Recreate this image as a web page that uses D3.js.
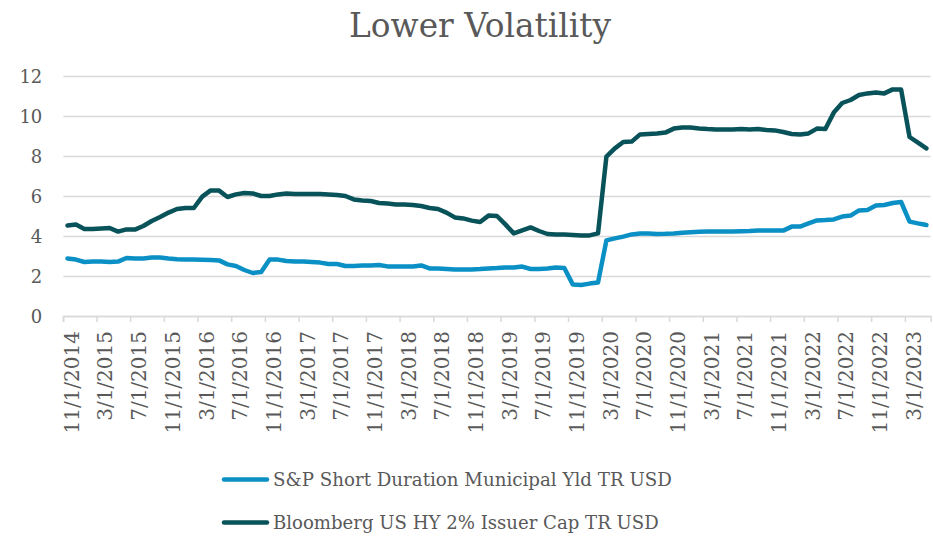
<!DOCTYPE html>
<html>
<head>
<meta charset="utf-8">
<script src="https://cdn.jsdelivr.net/npm/d3@7/dist/d3.min.js"></script>
<style>
  html, body { margin: 0; padding: 0; background: #ffffff; }
  svg { display: block; }
</style>
</head>
<body>
<svg id="chart" width="933" height="538"></svg>
<script>
// ---------------- DATA ----------------
const title = "Lower Volatility";
const startMonth = new Date(2014, 10, 1);   // 11/1/2014
const endMonth = new Date(2023, 5, 1);      // exclusive -> last 5/1/2023
const categories = d3.timeMonth.range(startMonth, endMonth).map(d => `${d.getMonth() + 1}/1/${d.getFullYear()}`);

const seriesNames = ["S&P Short Duration Municipal Yld TR USD", "Bloomberg US HY 2% Issuer Cap TR USD"];

const muniValues = [
  2.88, 2.82, 2.70, 2.72, 2.72, 2.70, 2.72, 2.90, 2.87, 2.88,
  2.92, 2.92, 2.87, 2.84, 2.82, 2.82, 2.81, 2.80, 2.78, 2.58,
  2.50, 2.30, 2.15, 2.20, 2.83, 2.82, 2.75, 2.72, 2.72, 2.70,
  2.67, 2.60, 2.60, 2.50, 2.50, 2.52, 2.53, 2.55, 2.48, 2.47,
  2.47, 2.48, 2.53, 2.38, 2.37, 2.35, 2.33, 2.33, 2.33, 2.35,
  2.38, 2.40, 2.43, 2.43, 2.47, 2.35, 2.35, 2.38, 2.42, 2.40,
  1.58, 1.55, 1.62, 1.67, 3.78, 3.88, 3.97, 4.08, 4.13, 4.12,
  4.10, 4.11, 4.13, 4.16, 4.19, 4.21, 4.22, 4.23, 4.23, 4.23,
  4.24, 4.25, 4.27, 4.28, 4.28, 4.27, 4.47, 4.47, 4.63, 4.78,
  4.80, 4.83, 4.97, 5.02, 5.28, 5.30, 5.52, 5.55, 5.65, 5.70,
  4.72, 4.63, 4.55
];

const hyValues = [
  4.52, 4.57, 4.35, 4.35, 4.38, 4.40, 4.22, 4.33, 4.32, 4.50,
  4.75, 4.95, 5.17, 5.35, 5.40, 5.40, 5.97, 6.28, 6.27, 5.95,
  6.08, 6.15, 6.13, 6.00, 6.00, 6.08, 6.13, 6.10, 6.10, 6.10,
  6.10, 6.08, 6.05, 6.00, 5.83, 5.78, 5.75, 5.65, 5.62, 5.58,
  5.57, 5.55, 5.50, 5.40, 5.35, 5.17, 4.93, 4.88, 4.77, 4.70,
  5.02, 5.00, 4.58, 4.13, 4.28, 4.43, 4.25, 4.10, 4.07, 4.07,
  4.05, 4.03, 4.03, 4.13, 7.97, 8.38, 8.70, 8.72, 9.08, 9.10,
  9.12, 9.17, 9.37, 9.42, 9.42, 9.38, 9.35, 9.33, 9.33, 9.33,
  9.35, 9.33, 9.35, 9.30, 9.28, 9.20, 9.10, 9.08, 9.13, 9.37,
  9.35, 10.17, 10.65, 10.80, 11.05, 11.13, 11.18, 11.13, 11.33, 11.32,
  8.95, 8.67, 8.38
];

const yTicks = [0, 2, 4, 6, 8, 10, 12];
const xTickLabels = [
  "11/1/2014", "3/1/2015", "7/1/2015", "11/1/2015", "3/1/2016", "7/1/2016",
  "11/1/2016", "3/1/2017", "7/1/2017", "11/1/2017", "3/1/2018", "7/1/2018",
  "11/1/2018", "3/1/2019", "7/1/2019", "11/1/2019", "3/1/2020", "7/1/2020",
  "11/1/2020", "3/1/2021", "7/1/2021", "11/1/2021", "3/1/2022", "7/1/2022",
  "11/1/2022", "3/1/2023"
];

// ---------------- LAYOUT ----------------
const FONT = "'DejaVu Serif', Georgia, serif";
const TEXT = "#595959";
const GRID = "#d9d9d9";
const colors = ["#0a90c4", "#08525a"];

const plot = { left: 63.3, right: 930.6, top: 76, bottom: 316 };
const svg = d3.select("#chart");

const x = d3.scaleBand().domain(categories).range([plot.left, plot.right]).padding(0);
const y = d3.scaleLinear().domain([0, 12]).range([plot.bottom, plot.top]);
const cx = c => x(c) + x.bandwidth() / 2;

// helper: fit a text to a target width
function fitText(sel, target, base) {
  const w = sel.node().getComputedTextLength();
  sel.attr("font-size", base * target / w);
}

// title
const t = svg.append("text")
  .attr("x", 480).attr("y", 37)
  .attr("text-anchor", "middle")
  .attr("font-family", FONT).attr("font-size", 30)
  .attr("fill", TEXT)
  .text(title);
fitText(t, 262, 30);

// gridlines (y axis)
const yAxis = d3.axisLeft(y).tickValues(yTicks).tickSize(-(plot.right - plot.left)).tickFormat(d3.format("d"));
const gy = svg.append("g").attr("transform", `translate(${plot.left},0)`).call(yAxis);
gy.select(".domain").remove();
gy.selectAll(".tick line").attr("stroke", GRID).attr("stroke-width", 1.5);
gy.selectAll(".tick text")
  .attr("x", -21).attr("dy", "0.35em")
  .attr("font-family", FONT).attr("font-size", 18).attr("fill", TEXT);

// x axis
const tickCats = categories.filter((c, i) => i % 4 === 0);
const xAxis = d3.axisBottom(x).tickValues(tickCats).tickSize(6).tickFormat((d, i) => xTickLabels[i]);
const gx = svg.append("g").attr("transform", `translate(0,${plot.bottom})`).call(xAxis);
gx.select(".domain").attr("stroke", GRID).attr("stroke-width", 1.5);
gx.selectAll(".tick").attr("transform", d => `translate(${x(d)},0)`);
gx.selectAll(".tick line").attr("stroke", GRID).attr("stroke-width", 1.5);
gx.selectAll(".tick text")
  .attr("font-family", FONT).attr("font-size", 20).attr("fill", TEXT)
  .attr("text-anchor", "end")
  .attr("x", 0).attr("y", 0).attr("dy", 0)
  .attr("transform", "translate(15.5,15) rotate(-90)");

// lines
const series = [muniValues, hyValues];
const line = d3.line().x((d, i) => cx(categories[i])).y(d => y(d));
series.forEach((vals, k) => {
  svg.append("path")
    .datum(vals)
    .attr("d", line)
    .attr("fill", "none")
    .attr("stroke", colors[k])
    .attr("stroke-width", 4.5)
    .attr("stroke-linejoin", "round")
    .attr("stroke-linecap", "round");
});

// legend
const legendY = [479.5, 522.5];
const legendW = [399, 386];
seriesNames.forEach((name, k) => {
  svg.append("line")
    .attr("x1", 224).attr("x2", 267)
    .attr("y1", legendY[k]).attr("y2", legendY[k])
    .attr("stroke", colors[k]).attr("stroke-width", 4.5).attr("stroke-linecap", "round");
  const lt = svg.append("text")
    .attr("x", 273).attr("y", legendY[k] + 6.5)
    .attr("font-family", FONT).attr("font-size", 19).attr("fill", TEXT)
    .text(name);
  fitText(lt, legendW[k], 19);
});
</script>
</body>
</html>
